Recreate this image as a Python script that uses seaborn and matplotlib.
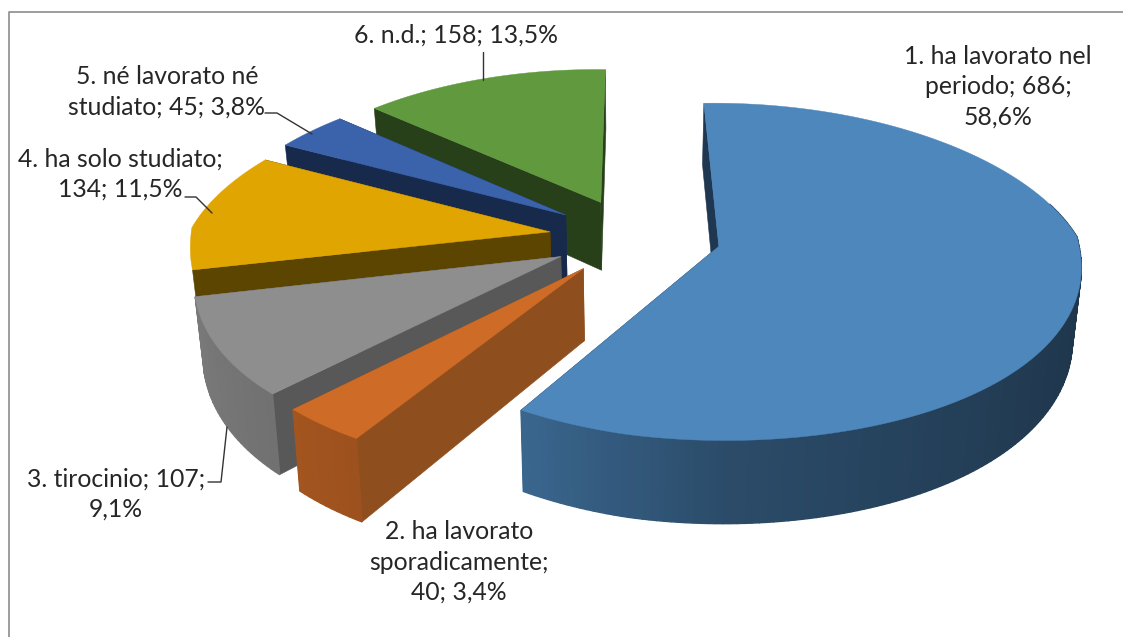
import numpy as np
import matplotlib
matplotlib.use("Agg")
import matplotlib.pyplot as plt
import seaborn as sns

labels = ["1. ha lavorato nel\nperiodo; 686;\n58,6%",
          "2. ha lavorato\nsporadicamente;\n40; 3,4%",
          "3. tirocinio; 107;\n9,1%",
          "4. ha solo studiato;\n134; 11,5%",
          "5. né lavorato né\nstudiato; 45; 3,8%",
          "6. n.d.; 158; 13,5%"]
counts = [686, 40, 107, 134, 45, 158]
top_colors = ["#4D87BC", "#CE6B27", "#8E8E8E", "#E0A500", "#3A63AC", "#619A3E"]
cut_colors = ["#1F3750", "#8E4E1D", "#585858", "#5C4500", "#172A4C", "#27401A"]

sns.set_theme(style="white")
plt.rcParams["font.family"] = ["Lato", "DejaVu Sans"]
palette = sns.color_palette(top_colors)

# Projection settings, in pixels of the picture
W, H = 1123, 637
CX, CY = 635, 237
RX, RY = 358, 162
DEPTH = 70
PERSP = 0.15
PERSP_BACK = 0.2
PERSP_FRONT = 0.15
VANISH = 50
LIFT = 7
STRETCH = 1
CONVERGE = 0.02
EXPLODE = 0.24
START = -1.8


def project(x, y, z=0.0):
    x, y = np.asarray(x, dtype=float), np.asarray(y, dtype=float)
    w = 1 - PERSP * y
    wx = np.where(y < 0, 1 - PERSP_BACK * y, 1 - PERSP_FRONT * np.abs(y) ** 1.3)
    sx = CX + VANISH + (RX * x - VANISH) / wx + STRETCH * np.maximum(x, 0)
    # vertical edges lean inwards going down
    sx = CX + (sx - CX) * (1 - CONVERGE * z)
    sy = CY + (RY * y + DEPTH * z) / w + LIFT * np.minimum(x, 0)
    return sx, sy


def outer_shade(t):
    # lighter on the left of the front, darker towards the right
    return np.interp(np.sin(np.radians(t)), [-1, -0.5, 0, 1], [0.86, 0.76, 0.56, 0.40])


fig = plt.figure(figsize=(W / 100, H / 100), dpi=100)
ax = fig.add_axes([0, 0, 1, 1])
ax.set_xlim(0, W)
ax.set_ylim(H, 0)
ax.axis("off")

# frame of the chart, only top and left are inside the picture
ax.plot([9, 9, W], [H, 12, 12], color="#8C8C8C", lw=1.2, zorder=0)

values = np.array(counts, dtype=float)
edges = START + 360 * np.concatenate([[0], np.cumsum(values)]) / values.sum()
draw_order = [5, 4, 3, 2, 1, 0]

z = 1
for i in draw_order:
    t0, t1 = edges[i], edges[i + 1]
    mid = np.radians((t0 + t1) / 2)
    ox, oy = EXPLODE * np.sin(mid), -EXPLODE * np.cos(mid)
    ts = np.linspace(t0, t1, max(int(t1 - t0), 8))
    rad = np.radians(ts)
    arc_x, arc_y = ox + np.sin(rad), oy - np.cos(rad)
    base = np.array(palette[i])

    # the two cut walls
    for tt in (t0, t1):
        r = np.radians(tt)
        ex, ey = ox + np.sin(r), oy - np.cos(r)
        a0, b0 = project(ox, oy)
        a1, b1 = project(ex, ey)
        a2, b2 = project(ex, ey, 1)
        a3, b3 = project(ox, oy, 1)
        ax.fill([a0, a1, a2, a3], [b0, b1, b2, b3], color=cut_colors[i], lw=0.4, zorder=z)
    z += 1

    # outer wall, only the part that can be seen from the front
    for a in range(len(ts) - 1):
        b = a + 1
        tm = (ts[a] + ts[b]) / 2
        if tm < 75 or tm > 254.5:
            continue
        px0, py0 = project(arc_x[a], arc_y[a])
        px1, py1 = project(arc_x[b], arc_y[b])
        qx0, qy0 = project(arc_x[a], arc_y[a], 1)
        qx1, qy1 = project(arc_x[b], arc_y[b], 1)
        ax.fill([px0, px1, qx1, qx0], [py0, py1, qy1, qy0], color=base * outer_shade(tm),
                lw=1.0, zorder=z)
    z += 1

    # top face
    tx, ty = project(np.r_[ox, arc_x], np.r_[oy, arc_y])
    ax.fill(tx, ty, color=palette[i], lw=0.3, zorder=z)
    z += 1

# leader lines
leaders = [([483, 483], [52, 80]),
           ([265, 277, 312], [113, 113, 134]),
           ([185, 196, 212], [197, 197, 213]),
           ([208, 221, 227], [482, 482, 427])]
for xs, ys in leaders:
    ax.plot(xs, ys, color="#333333", lw=1.0, zorder=z)

# data labels
positions = [(998, 87), (459, 562), (116, 494), (120, 174), (167, 92), (456, 35)]
for text, (x, y) in zip(labels, positions):
    ax.text(x, y, text, ha="center", va="center", fontsize=17.8, color="#262626",
            linespacing=1.38, zorder=z + 1)

fig.savefig("out.png", dpi=100, facecolor="white")
